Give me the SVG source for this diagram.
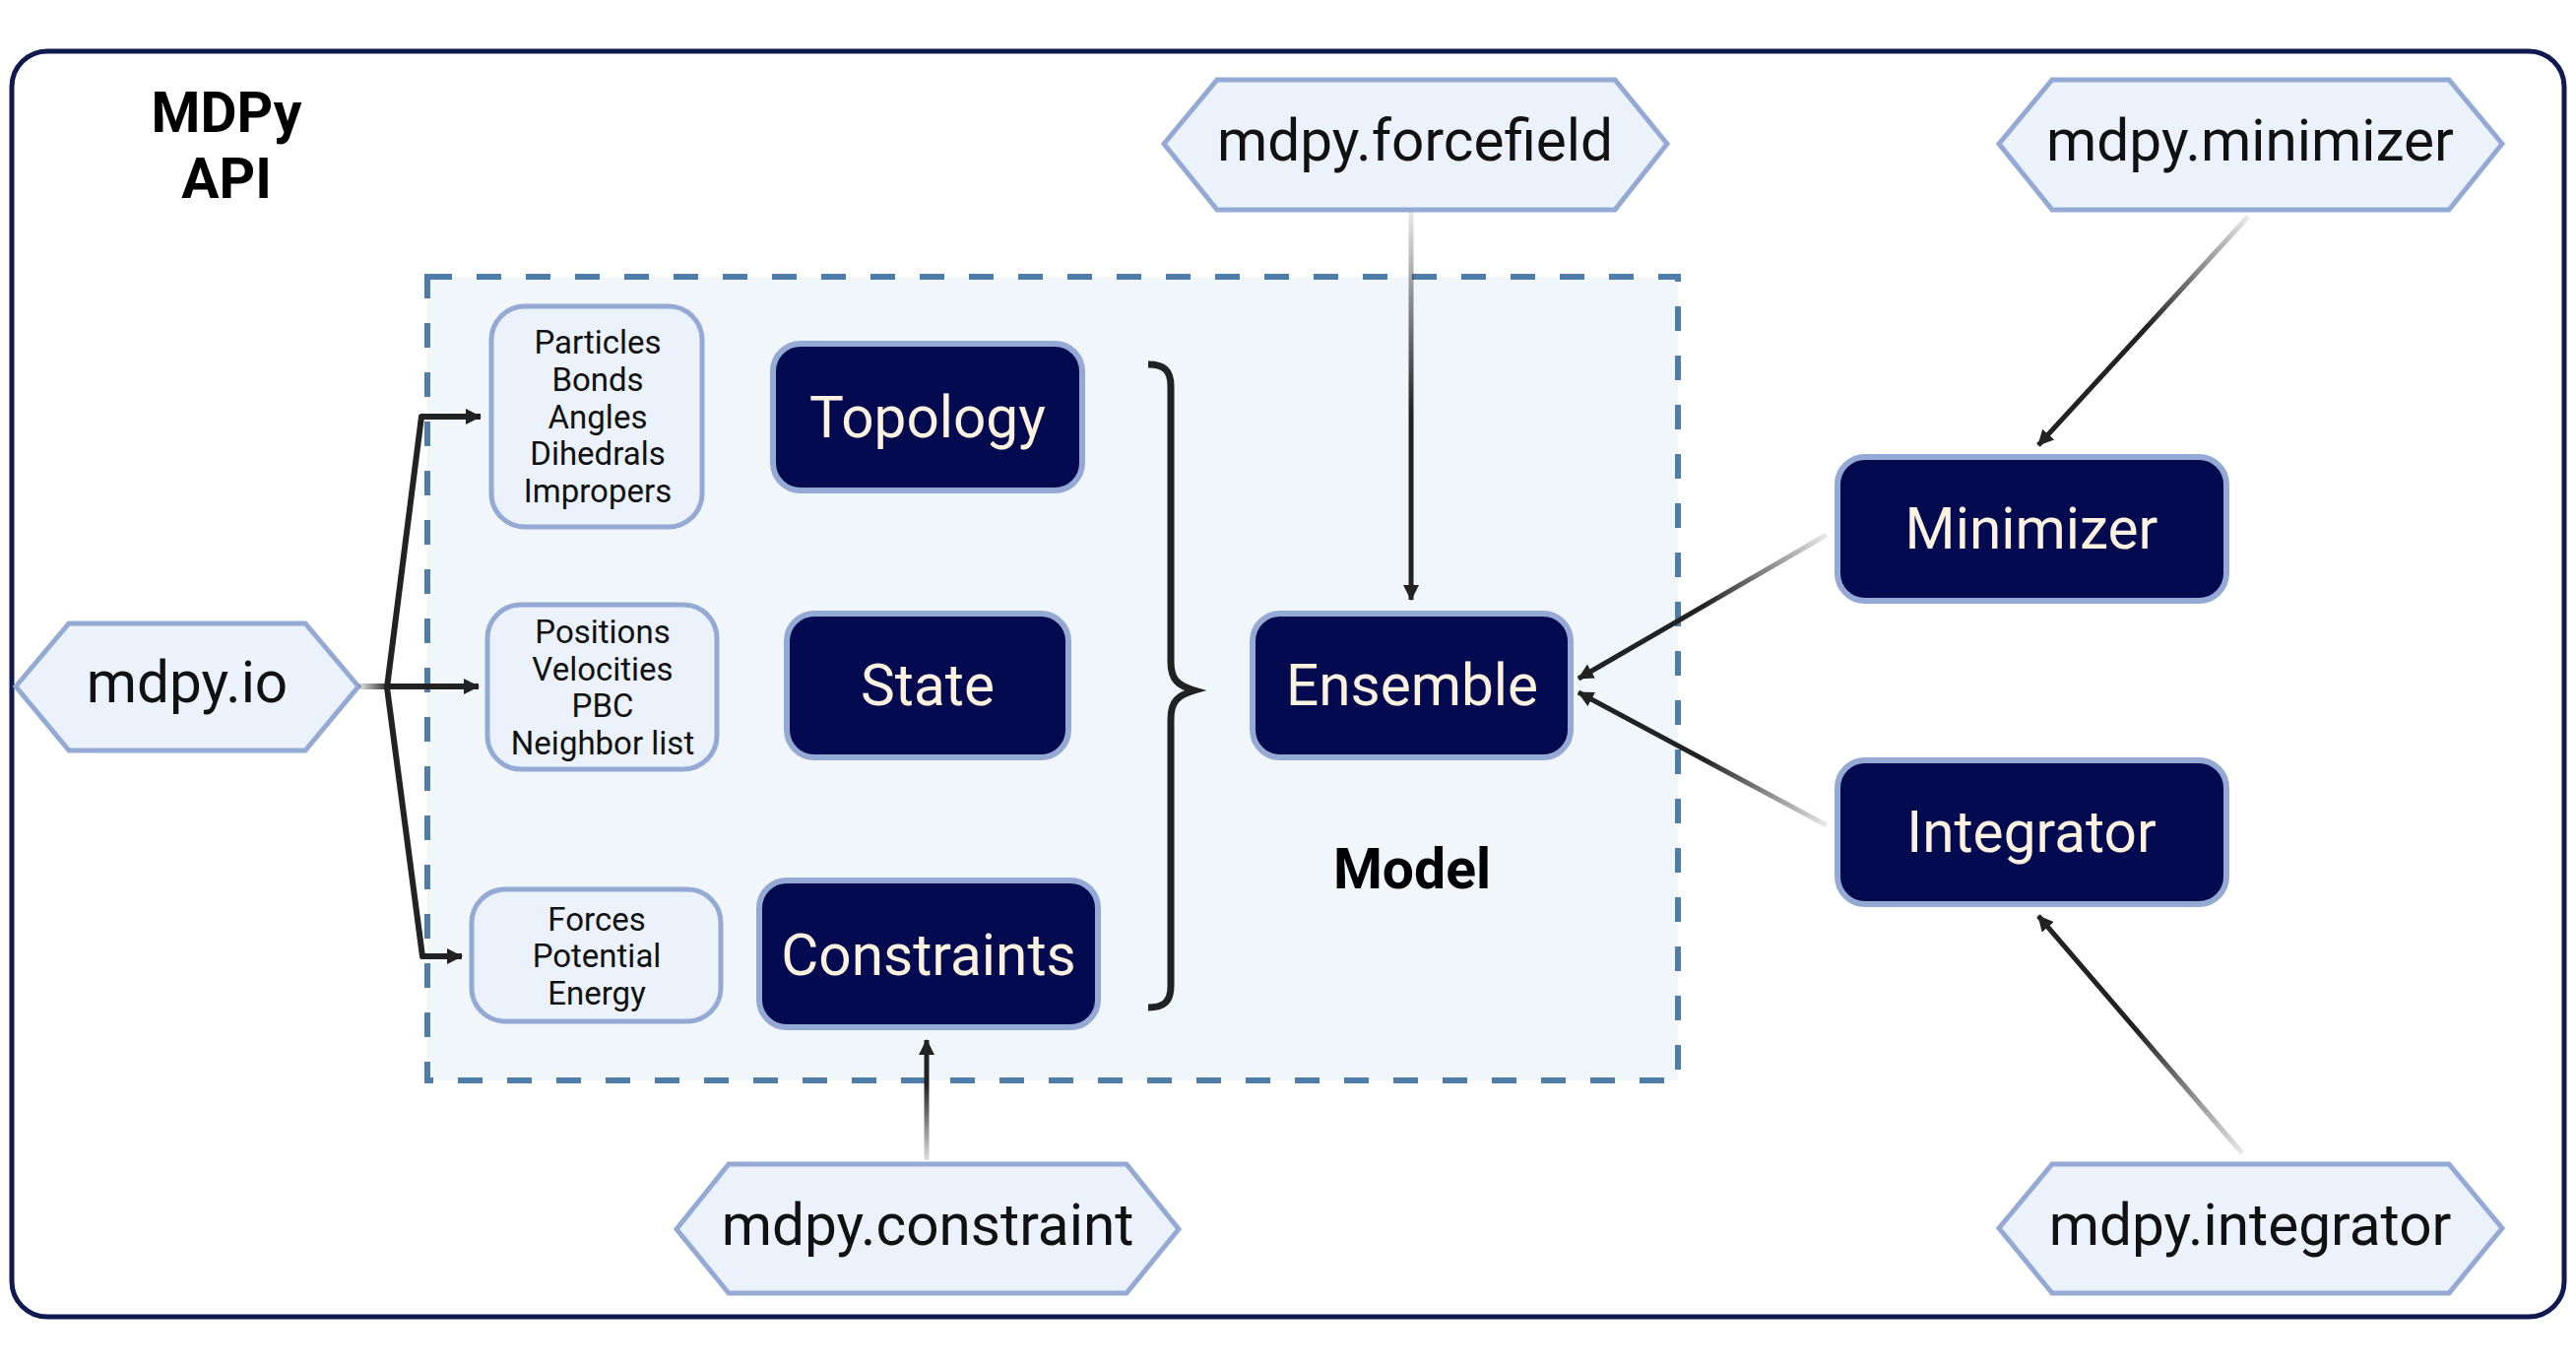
<svg xmlns="http://www.w3.org/2000/svg" width="2616" height="1389" viewBox="0 0 2616 1389">
<style>
.hex{fill:#EBF2FB;stroke:#94AAD4;stroke-width:5;stroke-linejoin:miter}
.lite{fill:#EBF2FB;stroke:#94AAD4;stroke-width:5}
.dark{fill:#030A50;stroke:#94AAD4;stroke-width:6}
.t{font-family:Roboto,"Liberation Sans",sans-serif;text-anchor:middle}
.hext{font-size:58.5px;fill:#111}
.dt{font-size:58.5px;fill:#FDF1DF}
.st{font-size:33px;fill:#111}
.bt{font-size:57px;font-weight:bold;fill:#000}
.c{fill:none;stroke:#222;stroke-width:5}
</style>
<defs>
<marker id="ah" viewBox="0 0 16 16" refX="15" refY="8" markerWidth="16" markerHeight="16" markerUnits="userSpaceOnUse" orient="auto">
<path d="M0,0 L16,8 L0,16 z" fill="#222"/>
</marker>
<linearGradient id="gIo" gradientUnits="userSpaceOnUse" x1="364" y1="697" x2="395" y2="697"><stop offset="0" stop-color="#222" stop-opacity="0.1"/><stop offset="1" stop-color="#222"/></linearGradient>
<linearGradient id="gFf" gradientUnits="userSpaceOnUse" x1="1433" y1="215" x2="1433" y2="420"><stop offset="0" stop-color="#222" stop-opacity="0.1"/><stop offset="1" stop-color="#222"/></linearGradient>
<linearGradient id="gMh" gradientUnits="userSpaceOnUse" x1="2283" y1="220" x2="2180" y2="332"><stop offset="0" stop-color="#222" stop-opacity="0.1"/><stop offset="1" stop-color="#222"/></linearGradient>
<linearGradient id="gIh" gradientUnits="userSpaceOnUse" x1="2277" y1="1171" x2="2170" y2="1046"><stop offset="0" stop-color="#222" stop-opacity="0.1"/><stop offset="1" stop-color="#222"/></linearGradient>
<linearGradient id="gME" gradientUnits="userSpaceOnUse" x1="1855" y1="543" x2="1730" y2="615"><stop offset="0" stop-color="#222" stop-opacity="0.1"/><stop offset="1" stop-color="#222"/></linearGradient>
<linearGradient id="gIE" gradientUnits="userSpaceOnUse" x1="1855" y1="838" x2="1730" y2="771"><stop offset="0" stop-color="#222" stop-opacity="0.1"/><stop offset="1" stop-color="#222"/></linearGradient>
<linearGradient id="gCo" gradientUnits="userSpaceOnUse" x1="941" y1="1178" x2="941" y2="1100"><stop offset="0" stop-color="#222" stop-opacity="0.15"/><stop offset="1" stop-color="#222"/></linearGradient>
</defs>

<rect id="frame" x="12" y="52" width="2592" height="1285" rx="36" fill="#fff" stroke="#111A50" stroke-width="5"/>
<text class="t bt" x="230" y="134">MDPy</text>
<text class="t bt" x="230" y="201">API</text>

<g id="model">
<rect x="434" y="281" width="1270" height="816" fill="#F1F6FB" stroke="#4F7DAA" stroke-width="6" stroke-dasharray="25 25"/>
<text class="t bt" x="1434" y="902">Model</text>
</g>

<g id="topology-attrs">
<rect class="lite" x="499" y="311" width="214" height="224" rx="34"/>
<text class="t st" x="607" y="359">Particles</text>
<text class="t st" x="607" y="397">Bonds</text>
<text class="t st" x="607" y="435">Angles</text>
<text class="t st" x="607" y="472">Dihedrals</text>
<text class="t st" x="607" y="510">Impropers</text>
</g>
<g id="state-attrs">
<rect class="lite" x="495" y="614" width="233" height="167" rx="34"/>
<text class="t st" x="612" y="653">Positions</text>
<text class="t st" x="612" y="691">Velocities</text>
<text class="t st" x="612" y="728">PBC</text>
<text class="t st" x="612" y="766">Neighbor list</text>
</g>
<g id="constraint-attrs">
<rect class="lite" x="479" y="903" width="253" height="134" rx="34"/>
<text class="t st" x="606" y="945">Forces</text>
<text class="t st" x="606" y="982">Potential</text>
<text class="t st" x="606" y="1020">Energy</text>
</g>

<g id="topology"><rect class="dark" x="785" y="349" width="314" height="149" rx="28"/><text class="t dt" x="942" y="444">Topology</text></g>
<g id="state"><rect class="dark" x="799" y="623" width="286" height="146" rx="28"/><text class="t dt" x="942" y="716">State</text></g>
<g id="constraints"><rect class="dark" x="771" y="894" width="344" height="149" rx="28"/><text class="t dt" x="943" y="990">Constraints</text></g>
<g id="ensemble"><rect class="dark" x="1272" y="623" width="323" height="146" rx="28"/><text class="t dt" x="1434" y="716">Ensemble</text></g>
<g id="minimizer"><rect class="dark" x="1866" y="464" width="395" height="146" rx="28"/><text class="t dt" x="2063" y="557">Minimizer</text></g>
<g id="integrator"><rect class="dark" x="1866" y="772" width="395" height="146" rx="28"/><text class="t dt" x="2063" y="865">Integrator</text></g>

<g id="mdpy-io"><polygon class="hex" points="16,697 70,633 310,633 364,697 310,762 70,762"/><text class="t hext" x="190" y="713">mdpy.io</text></g>
<g id="mdpy-forcefield"><polygon class="hex" points="1182,146 1236,81 1640,81 1693,146 1640,213 1236,213"/><text class="t hext" x="1437" y="163">mdpy.forcefield</text></g>
<g id="mdpy-minimizer"><polygon class="hex" points="2030,146 2084,81 2487,81 2541,146 2487,213 2084,213"/><text class="t hext" x="2285" y="163">mdpy.minimizer</text></g>
<g id="mdpy-integrator"><polygon class="hex" points="2030,1247 2084,1182 2487,1182 2541,1247 2487,1313 2084,1313"/><text class="t hext" x="2285" y="1264">mdpy.integrator</text></g>
<g id="mdpy-constraint"><polygon class="hex" points="687,1248 740,1182 1144,1182 1197,1248 1144,1313 740,1313"/><text class="t hext" x="942" y="1264">mdpy.constraint</text></g>

<g id="connectors">
<path d="M1166,370 C1182,370 1189,376 1189,392 L1189,672 C1189,690 1196,696 1213,701 C1196,706 1189,712 1189,730 L1189,1001 C1189,1017 1182,1023 1166,1023" fill="none" stroke="#222" stroke-width="7"/>
<path d="M364,697 L486,697" fill="none" stroke="url(#gIo)" stroke-width="6" marker-end="url(#ah)"/>
<path d="M393,698 L428,423 L488,423" fill="none" stroke="#222" stroke-width="6" stroke-linejoin="round" marker-end="url(#ah)"/>
<path d="M393,698 L429,971 L469,971" fill="none" stroke="#222" stroke-width="6" stroke-linejoin="round" marker-end="url(#ah)"/>
<path d="M1433,215 L1433,609" fill="none" stroke="url(#gFf)" stroke-width="5" marker-end="url(#ah)"/>
<path d="M2283,220 L2070,452" fill="none" stroke="url(#gMh)" stroke-width="5" marker-end="url(#ah)"/>
<path d="M2277,1171 L2070,930" fill="none" stroke="url(#gIh)" stroke-width="5" marker-end="url(#ah)"/>
<path d="M1855,543 L1603,689" fill="none" stroke="url(#gME)" stroke-width="5" marker-end="url(#ah)"/>
<path d="M1855,838 L1603,703" fill="none" stroke="url(#gIE)" stroke-width="5" marker-end="url(#ah)"/>
<path d="M941,1178 L941,1056" fill="none" stroke="url(#gCo)" stroke-width="5" marker-end="url(#ah)"/>
</g>
</svg>
